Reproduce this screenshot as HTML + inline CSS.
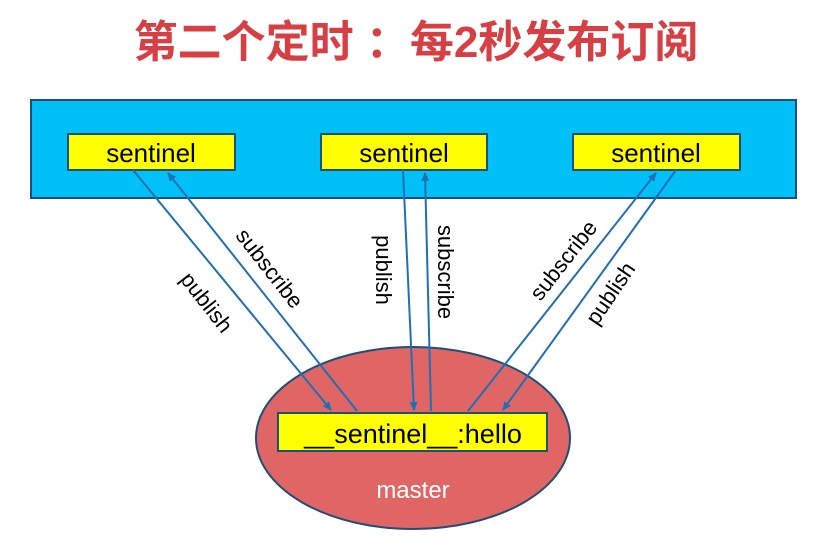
<!DOCTYPE html>
<html><head><meta charset="utf-8"><style>
body{margin:0;width:819px;height:539px;background:#fff;overflow:hidden;}
</style></head><body>
<svg width="819" height="539" xmlns="http://www.w3.org/2000/svg" font-family="Liberation Sans, sans-serif">
<defs><marker id="a" markerWidth="10" markerHeight="10" refX="8" refY="4" orient="auto" markerUnits="userSpaceOnUse"><path d="M0,0 L9,4 L0,8 Z" fill="#1f6fb5"/></marker></defs>
<text x="416" y="57" text-anchor="middle" font-family="Liberation Sans, Noto Sans CJK SC, sans-serif" font-weight="bold" font-size="44" fill="#d64045">第二个定时 ：每2秒发布订阅</text>
<rect x="31" y="100" width="765" height="98" fill="#00c0f8" stroke="#1f4e79" stroke-width="2"/>
<g fill="#ffff00" stroke="#1f4e79" stroke-width="2">
<rect x="68" y="134" width="167" height="36"/><rect x="321" y="134" width="166" height="36"/><rect x="573" y="134" width="167" height="36"/></g>
<g font-size="26" text-anchor="middle" fill="#000"><text x="151" y="162">sentinel</text><text x="404" y="162">sentinel</text><text x="656" y="162">sentinel</text></g>
<ellipse cx="413" cy="438" rx="157" ry="91" fill="#e06666" stroke="#1f4e79" stroke-width="2"/>
<rect x="278" y="413" width="269" height="38" fill="#ffff00" stroke="#1f4e79" stroke-width="2"/>
<text x="413" y="443" font-size="27" text-anchor="middle">__sentinel__:hello</text>
<text x="413" y="498" font-size="24" text-anchor="middle" fill="#fff">master</text>
<g stroke="#1f6fb5" stroke-width="2" fill="none">
<line x1="133" y1="170" x2="331" y2="410" marker-end="url(#a)"/>
<line x1="357" y1="411" x2="168" y2="173" marker-end="url(#a)"/>
<line x1="403" y1="170" x2="414" y2="410" marker-end="url(#a)"/>
<line x1="431" y1="411" x2="425" y2="173" marker-end="url(#a)"/>
<line x1="468" y1="411" x2="656" y2="173" marker-end="url(#a)"/>
<line x1="676" y1="170" x2="503" y2="410" marker-end="url(#a)"/>
</g>
<g font-size="22" text-anchor="middle" fill="#000">
<text transform="translate(207,302) rotate(52)" y="8">publish</text>
<text transform="translate(270,268) rotate(52)" y="8">subscribe</text>
<text transform="translate(384,270) rotate(90)" y="8">publish</text>
<text transform="translate(446,272) rotate(90)" y="8">subscribe</text>
<text transform="translate(563,260) rotate(-52)" y="8">subscribe</text>
<text transform="translate(610,293) rotate(-56)" y="8">publish</text>
</g>
</svg>
</body></html>
